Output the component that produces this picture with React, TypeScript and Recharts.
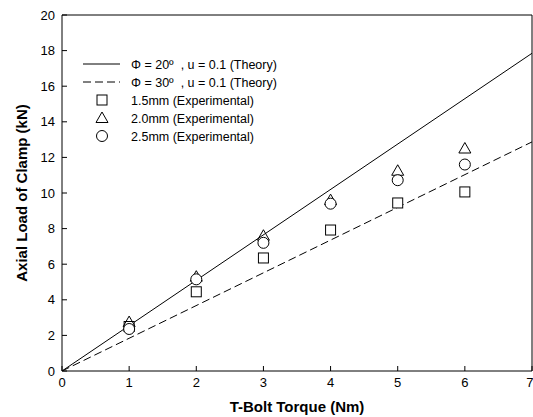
import { ComposedChart, Line, Scatter, XAxis, YAxis, Customized, ReferenceLine } from 'recharts'

const torque = [1, 2, 3, 4, 5, 6]
const load15 = [2.5, 4.45, 6.35, 7.92, 9.44, 10.06]
const load20 = [2.75, 5.3, 7.6, 9.6, 11.25, 12.5]
const load25 = [2.36, 5.15, 7.2, 9.4, 10.72, 11.6]

const theoryX = [0, 7]
const theory20 = [0, 17.85]
const theory30 = [0, 12.87]

const xTicks = [0, 1, 2, 3, 4, 5, 6, 7]
const yTicks = [0, 2, 4, 6, 8, 10, 12, 14, 16, 18, 20]

const legendRows = [
  { kind: 'solid', label: 'Φ = 20º  , u = 0.1 (Theory)' },
  { kind: 'dashed', label: 'Φ = 30º  , u = 0.1 (Theory)' },
  { kind: 'square', label: '1.5mm (Experimental)' },
  { kind: 'triangle', label: '2.0mm (Experimental)' },
  { kind: 'circle', label: '2.5mm (Experimental)' },
]

const toPoints = (xs: number[], ys: number[]) => xs.map((x, i) => ({ x, y: ys[i] }))

const font = '"Liberation Sans", Arial, sans-serif'

const Square = (props: any) => {
  const { cx, cy } = props
  if (cx == null || cy == null) return null
  return <rect x={cx - 5} y={cy - 5} width={10} height={10} fill="#fff" stroke="#000" strokeWidth={1} />
}

const Triangle = (props: any) => {
  const { cx, cy } = props
  if (cx == null || cy == null) return null
  return <path d={`M${cx},${cy - 6} L${cx + 6},${cy + 4.5} L${cx - 6},${cy + 4.5} Z`} fill="none" stroke="#000" strokeWidth={1} />
}

const Circle = (props: any) => {
  const { cx, cy } = props
  if (cx == null || cy == null) return null
  return <circle cx={cx} cy={cy} r={5.5} fill="#fff" stroke="#000" strokeWidth={1} />
}

const LegendBox = () => {
  const x0 = 83
  return (
    <g fontFamily={font} fontSize={12.5} fill="#000">
      {legendRows.map((row, i) => {
        const y = 64 + i * 18
        const mx = 102
        let mark = null
        if (row.kind === 'solid') mark = <line x1={x0} x2={x0 + 37} y1={y} y2={y} stroke="#000" />
        if (row.kind === 'dashed') mark = <line x1={x0} x2={x0 + 37} y1={y} y2={y} stroke="#000" strokeDasharray="8 4" />
        if (row.kind === 'square') mark = <Square cx={mx} cy={y} />
        if (row.kind === 'triangle') mark = <Triangle cx={mx} cy={y} />
        if (row.kind === 'circle') mark = <Circle cx={mx} cy={y} />
        return (
          <g key={row.label}>
            {mark}
            <text x={131} y={y + 4.5} style={{ whiteSpace: 'pre' }}>{row.label}</text>
          </g>
        )
      })}
    </g>
  )
}

export default function App() {
  return (
    <div style={{ position: 'absolute', left: 0, top: 0, width: 533, height: 417, background: '#fff' }}>
      <ComposedChart width={533} height={417} margin={{ top: 15, right: 1, left: 0, bottom: 0 }}>
        <XAxis
          dataKey="x"
          type="number"
          domain={[0, 7]}
          ticks={xTicks}
          allowDataOverflow
          height={46}
          tickSize={-5}
          tickMargin={12}
          stroke="#000"
          tick={{ fill: '#000', fontSize: 13, fontFamily: font }}
          label={{ value: 'T-Bolt Torque (Nm)', position: 'insideBottom', offset: 5, fill: '#000', fontSize: 15, fontWeight: 'bold', fontFamily: font }}
        />
        <YAxis
          dataKey="y"
          type="number"
          domain={[0, 20]}
          ticks={yTicks}
          allowDataOverflow
          width={62}
          tickSize={-5}
          tickMargin={12}
          stroke="#000"
          tick={{ fill: '#000', fontSize: 13, fontFamily: font }}
          label={{ value: 'Axial Load of Clamp (kN)', angle: -90, position: 'insideLeft', offset: 22, style: { textAnchor: 'middle' }, fill: '#000', fontSize: 15, fontWeight: 'bold', fontFamily: font }}
        />
        <ReferenceLine y={20} stroke="#000" strokeWidth={1} />
        <ReferenceLine x={7} stroke="#000" strokeWidth={1} />
        <Line data={toPoints(theoryX, theory20)} dataKey="y" type="linear" stroke="#000" strokeWidth={1} dot={false} isAnimationActive={false} />
        <Line data={toPoints(theoryX, theory30)} dataKey="y" type="linear" stroke="#000" strokeWidth={1} strokeDasharray="8 4" dot={false} isAnimationActive={false} />
        <Scatter data={toPoints(torque, load15)} dataKey="y" shape={<Square />} isAnimationActive={false} />
        <Scatter data={toPoints(torque, load20)} dataKey="y" shape={<Triangle />} isAnimationActive={false} />
        <Scatter data={toPoints(torque, load25)} dataKey="y" shape={<Circle />} isAnimationActive={false} />
        <Customized component={LegendBox} />
      </ComposedChart>
    </div>
  )
}
